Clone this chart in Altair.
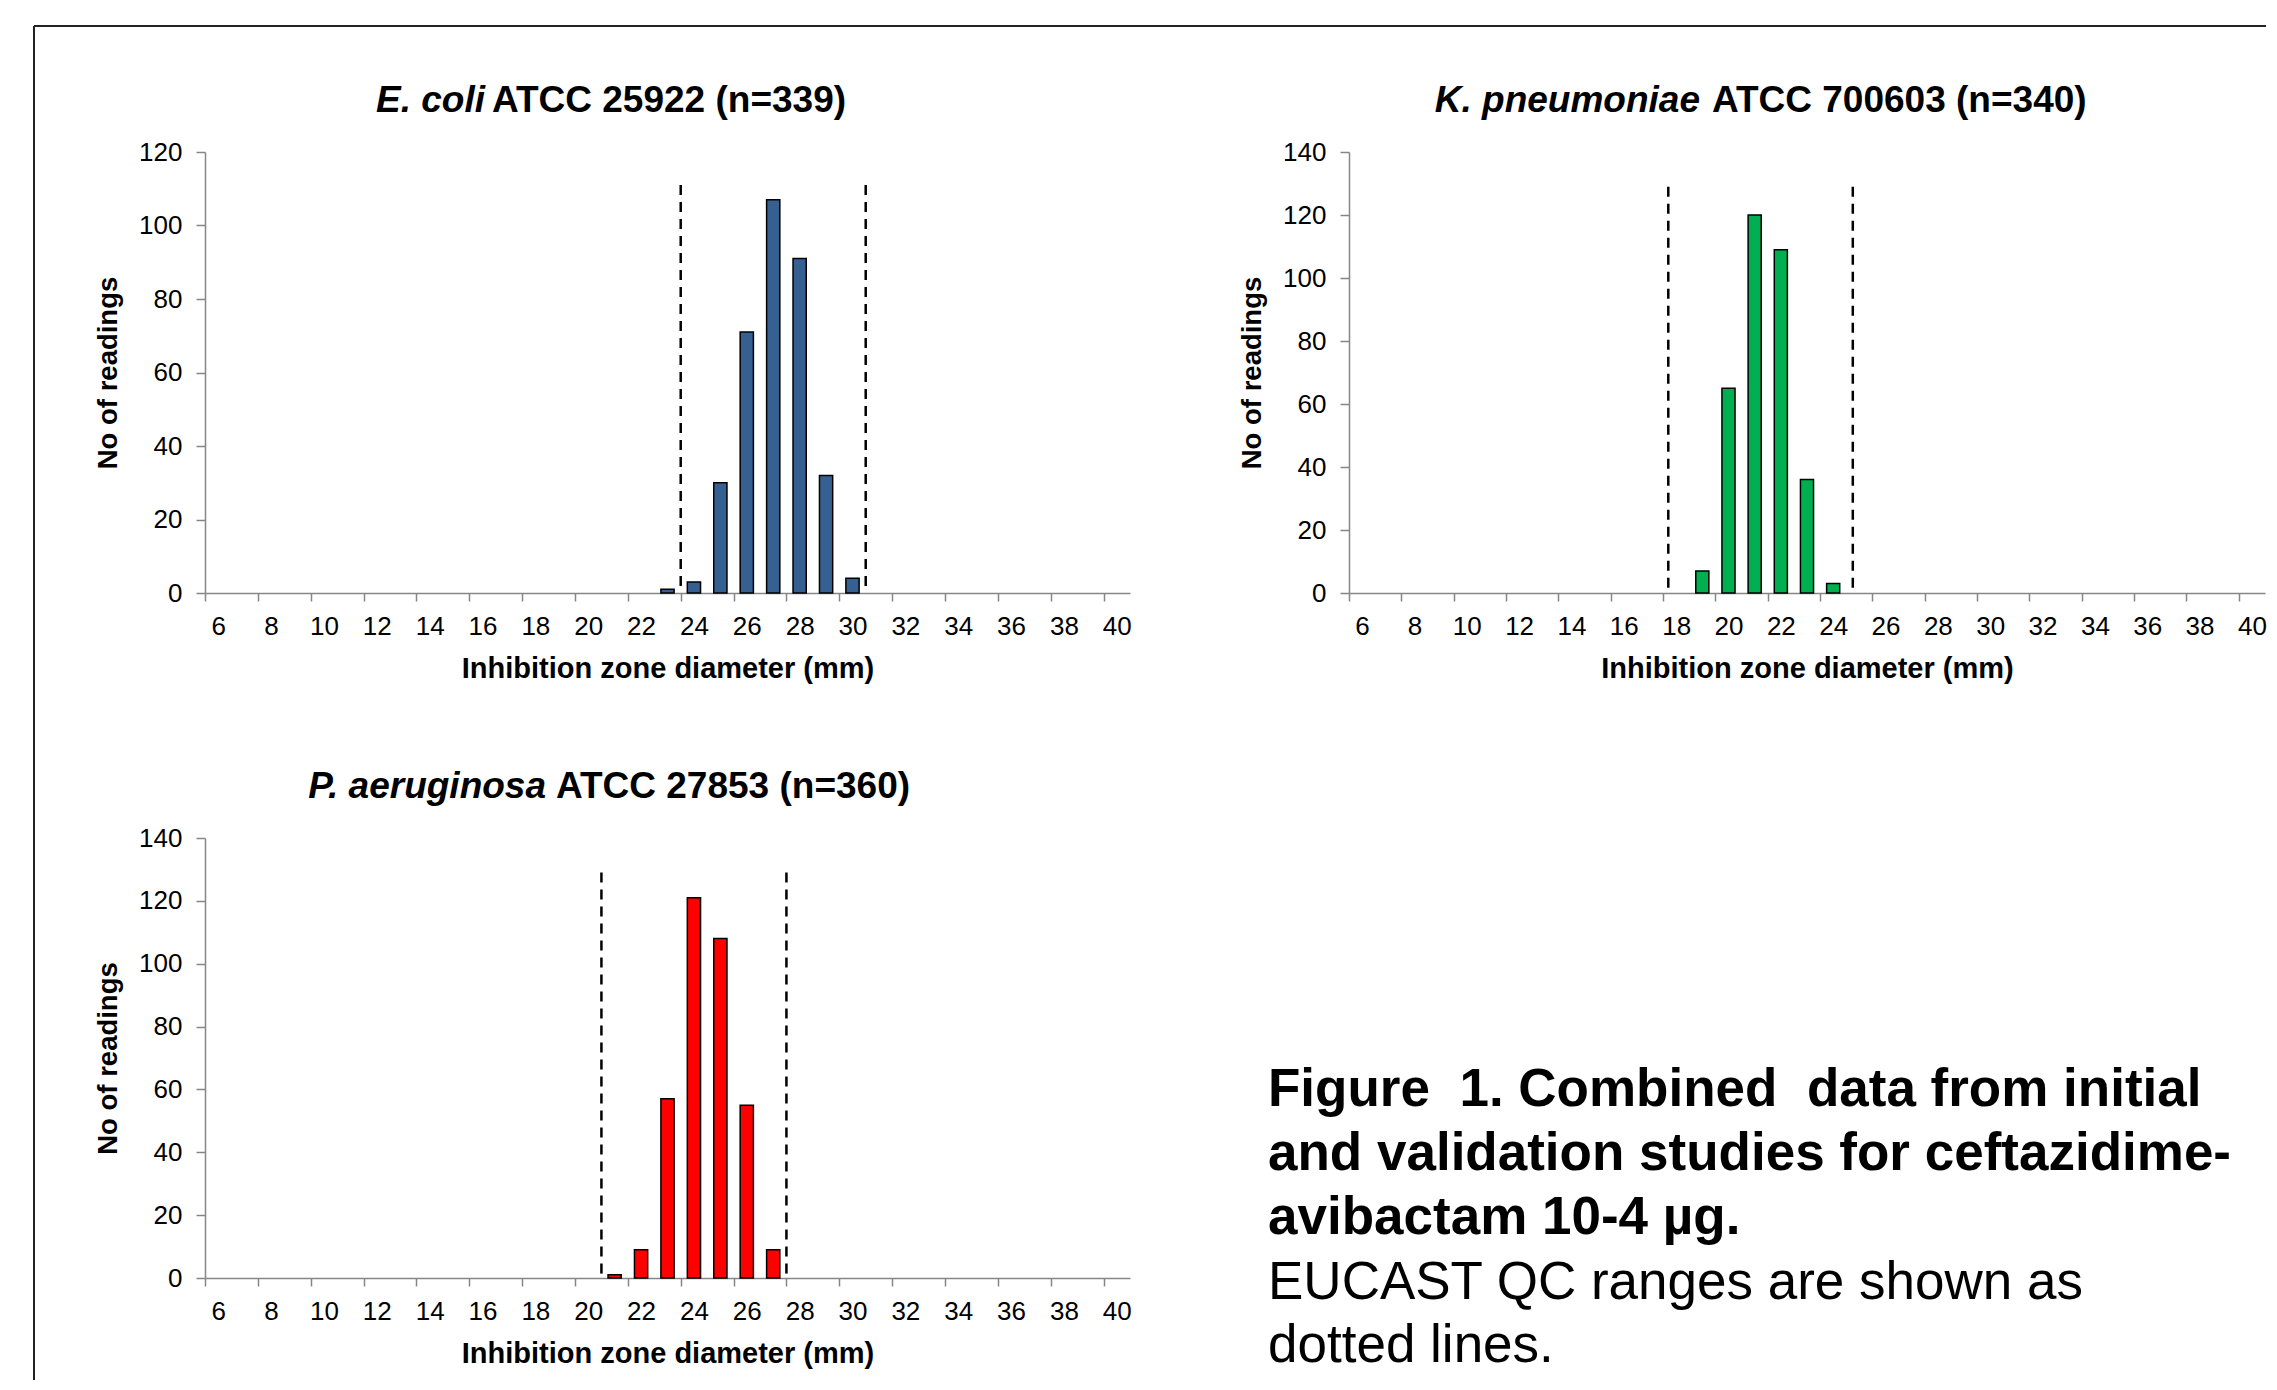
import altair as alt
import pandas as pd

FONT = "Liberation Sans"

# ---- data ----
ecoli_mm = [23, 24, 25, 26, 27, 28, 29, 30]
ecoli_n = [1, 3, 30, 71, 107, 91, 32, 4]
kpn_mm = [19, 20, 21, 22, 23, 24]
kpn_n = [7, 65, 120, 109, 36, 3]
pae_mm = [21, 22, 23, 24, 25, 26, 27]
pae_n = [1, 9, 57, 121, 108, 55, 9]

ecoli_qc = [23.5, 30.5]
kpn_qc = [17.7, 24.75]
pae_qc = [20.5, 27.5]
ecoli_qc_top = 111
kpn_qc_top = 129
pae_qc_top = 129

# category boundaries (tick marks) for zone diameters 6..40
x_bounds = [5.5, 6.5, 7.5, 8.5, 9.5, 10.5, 11.5, 12.5, 13.5, 14.5, 15.5, 16.5,
            17.5, 18.5, 19.5, 20.5, 21.5, 22.5, 23.5, 24.5, 25.5, 26.5, 27.5,
            28.5, 29.5, 30.5, 31.5, 32.5, 33.5, 34.5, 35.5, 36.5, 37.5, 38.5,
            39.5, 40.5]

NB = "\u00a0"
caption_bold = ["Figure" + NB + " 1. Combined" + NB + " data from initial",
                "and validation studies for ceftazidime-",
                "avibactam 10-4 \u00b5g."]
caption_plain = ["EUCAST QC ranges are shown as", "dotted lines."]

one = pd.DataFrame({"k": [0]})


def panel(title_it, title_rest, mm, n, qc, qc_top, ymax, color, w, h,
          split, extra=()):
    xs = alt.Scale(domain=[5.5, 40.5], nice=False, zero=False)
    ys = alt.Scale(domain=[0, ymax], nice=False)
    half = w / 35 / 2
    xaxis = alt.Axis(
        values=x_bounds, title="Inhibition zone diameter (mm)",
        labelExpr="(datum.value % 2 == 1.5) ? format(datum.value + 0.5, 'd') : ''",
        labelOffset=half, labelFlush=False, labelOverlap=False,
        tickSize=8, labelPadding=12, labelFontSize=26,
        titleFontSize=29, titleX=w / 2, titleY=75,
        titleBaseline="middle", titleAlign="center")
    yaxis = alt.Axis(
        values=list(range(0, ymax + 1, 20)), title="No of readings",
        tickSize=9, labelPadding=14, labelFontSize=26, titleFontSize=27.5,
        titleX=-97, titleY=h / 2, titleBaseline="middle",
        titleAlign="center", titleAngle=270)

    df = pd.DataFrame({"mm": mm, "n": n, "base": [0] * len(mm)})
    bars = alt.Chart(df).transform_calculate(
        lo="datum.mm - 0.25", hi="datum.mm + 0.25"
    ).mark_bar(color=color, stroke="black", strokeWidth=1.5).encode(
        x=alt.X("lo:Q", scale=xs, axis=xaxis),
        x2="hi:Q",
        y=alt.Y("n:Q", scale=ys, axis=yaxis),
        y2="base:Q",
    )

    qdf = pd.DataFrame({"d": qc, "top": [qc_top, qc_top], "base": [0, 0]})
    rule = alt.Chart(qdf).mark_rule(
        color="black", strokeWidth=2.5, strokeDash=[10, 7]
    ).encode(x=alt.X("d:Q", scale=xs), y=alt.Y("top:Q", scale=ys), y2="base:Q")

    t1 = alt.Chart(one).mark_text(
        text=title_it, align="right", baseline="middle", font=FONT,
        fontSize=37, fontWeight="bold", fontStyle="italic", color="black"
    ).encode(x=alt.value(split[0]), y=alt.value(-51))
    t2 = alt.Chart(one).mark_text(
        text=title_rest, align="left", baseline="middle", font=FONT,
        fontSize=37, fontWeight="bold", color="black"
    ).encode(x=alt.value(split[1]), y=alt.value(-51))

    return alt.layer(bars, rule, t1, t2, *extra).properties(width=w, height=h)


# decorative frame (drawn relative to the first panel)
frame_top = alt.Chart(one).mark_rule(color="#222222", strokeWidth=2).encode(
    x=alt.value(-171), x2=alt.value(2061), y=alt.value(-126))
frame_left = alt.Chart(one).mark_rule(color="#222222", strokeWidth=2).encode(
    x=alt.value(-171), y=alt.value(-126), y2=alt.value(1228))

# caption (drawn relative to the third panel)
cap1 = alt.Chart(one).mark_text(
    text=caption_bold, align="left", baseline="middle", lineHeight=64,
    font=FONT, fontSize=53, fontWeight="bold", color="black"
).encode(x=alt.value(1063), y=alt.value(252))
cap2 = alt.Chart(one).mark_text(
    text=caption_plain, align="left", baseline="middle", lineHeight=63,
    font=FONT, fontSize=53, color="black"
).encode(x=alt.value(1063), y=alt.value(445))

p1 = panel("E. coli", "ATCC 25922 (n=339)", ecoli_mm, ecoli_n, ecoli_qc,
           ecoli_qc_top, 120, "#376092", 925, 441, (280, 287),
           extra=(frame_top, frame_left))
p2 = panel("K. pneumoniae", "ATCC 700603 (n=340)", kpn_mm, kpn_n, kpn_qc,
           kpn_qc_top, 140, "#00B050", 916, 441, (351, 363))
p3 = panel("P. aeruginosa", "ATCC 27853 (n=360)", pae_mm, pae_n, pae_qc,
           pae_qc_top, 140, "#FF0000", 925, 440, (341, 351),
           extra=(cap1, cap2))

chart = alt.concat(
    p1, p2, p3, columns=2, spacing={"row": 245, "column": 219},
    bounds="flush"
).properties(
    padding={"left": 25, "top": 17, "right": 0, "bottom": 0},
    background="white",
).configure_view(strokeWidth=0).configure_axis(
    labelFont=FONT, titleFont=FONT, labelColor="black", titleColor="black",
    titleFontWeight="bold", domainColor="#868686", tickColor="#868686",
    domainWidth=1.5, tickWidth=1.5, grid=False
)

chart.save("out.html", embed_options={"renderer": "svg", "actions": False})
